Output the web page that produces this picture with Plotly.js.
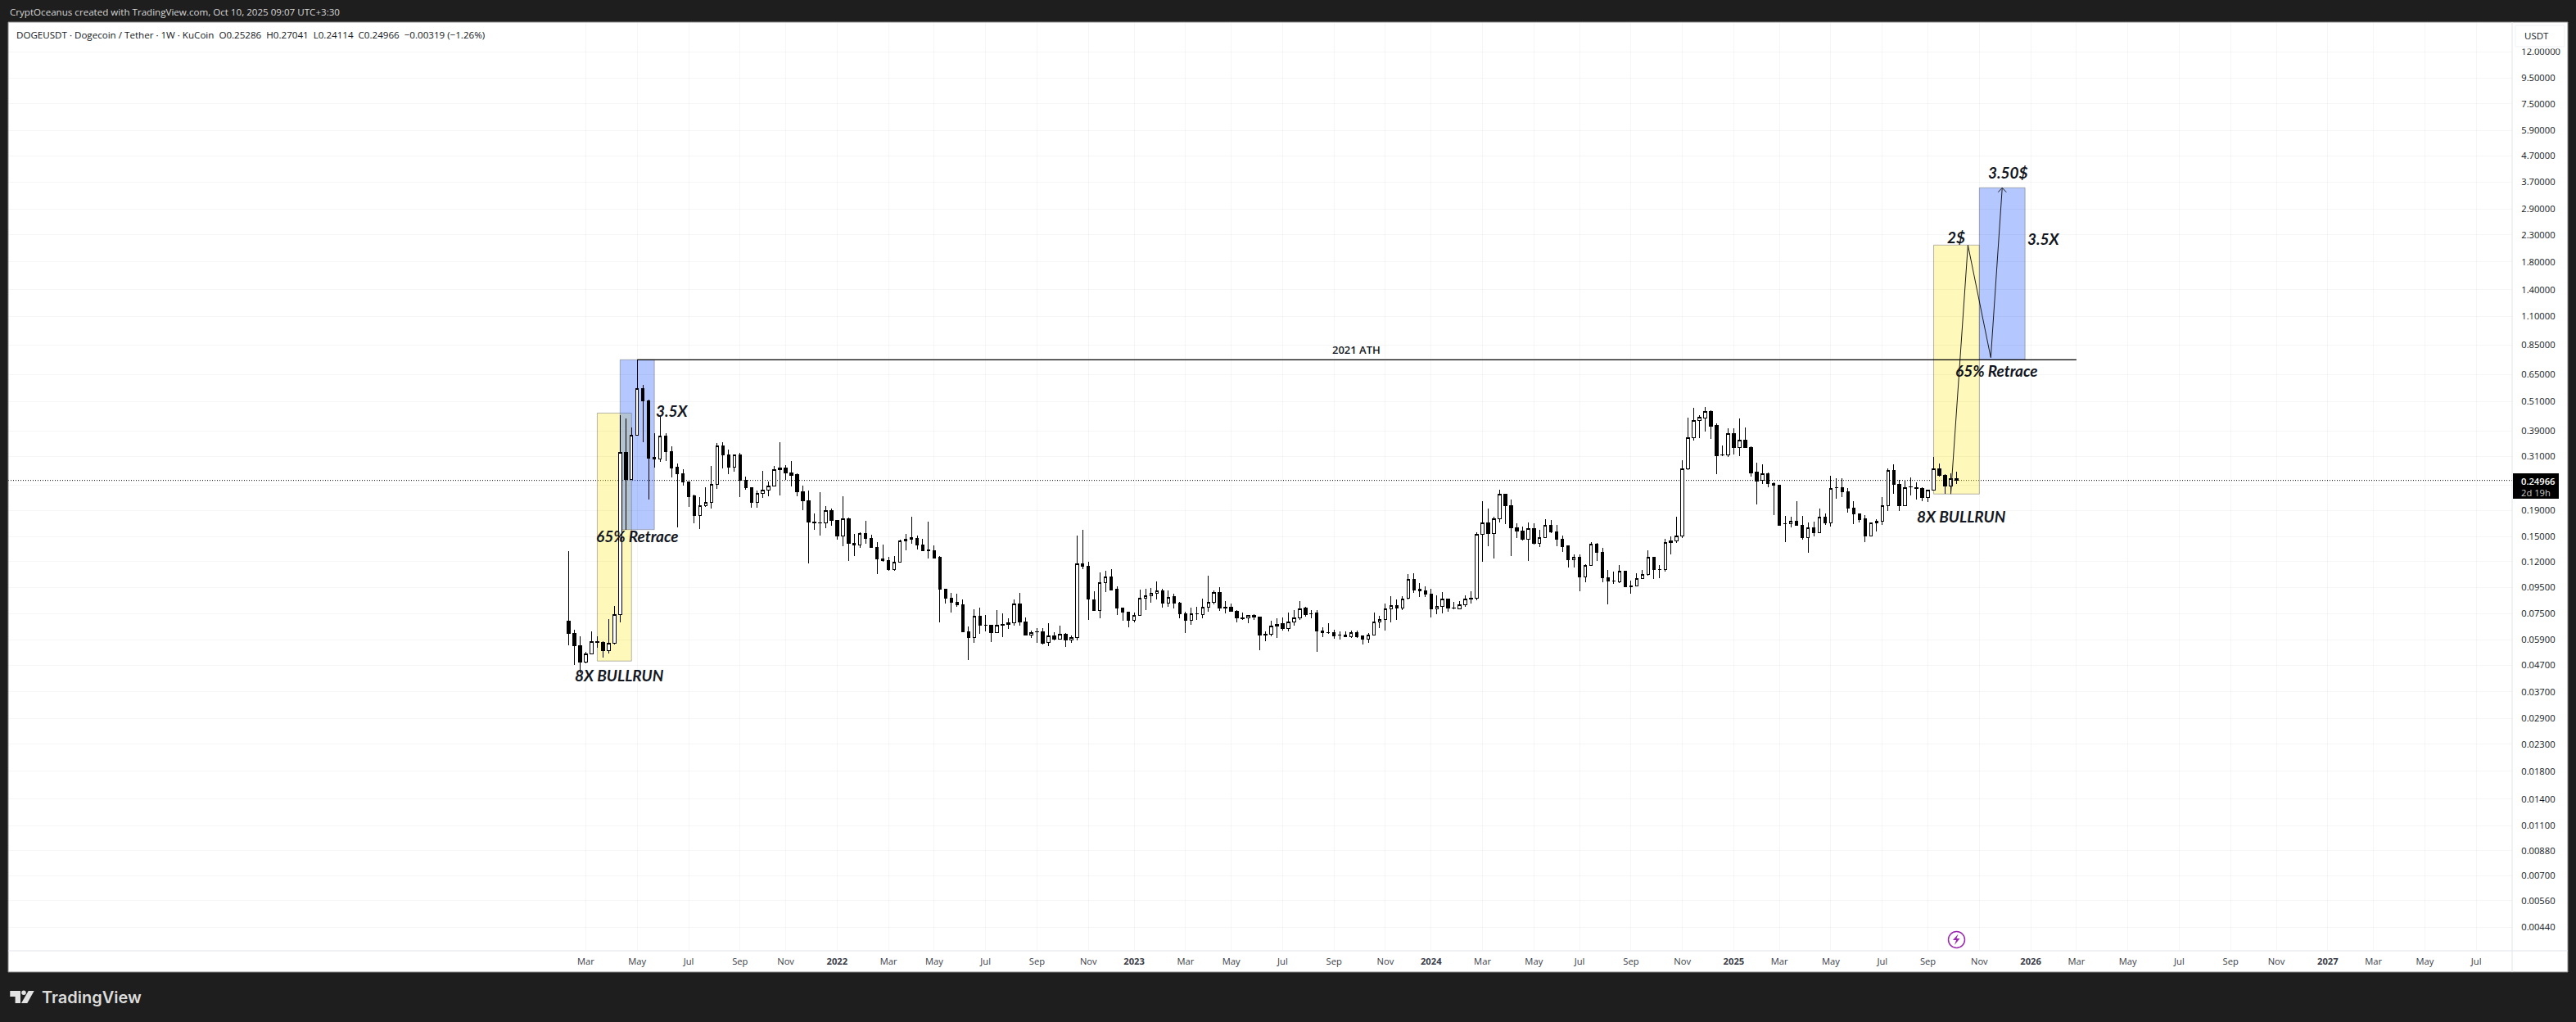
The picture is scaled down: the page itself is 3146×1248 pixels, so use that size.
<!DOCTYPE html>
<html>
<head>
<meta charset="utf-8">
<title>DOGEUSDT 1W</title>
<script src="https://cdn.plot.ly/plotly-3.0.1.min.js"></script>
<style>
  html, body { margin: 0; padding: 0; background: #1e1e1e; }
  #chart { width: 3146px; height: 1248px; }
  /* keep wicks and body edges on whole pixels, the reference has no soft edges here */
  .boxes path { shape-rendering: crispEdges !important; }
</style>
</head>
<body>
<div id="chart"></div>
<script>
// weekly candles, first bar is the week of 2021-02-08
const firstWeek = '2021-02-08';

const opens = [
  .0700,.0627,.0561,.0484,.0521,.0582,.0578,.0536,.0572,.0741,
  .322,.2515,.375,.5735,.513,.308,.3026,.373,.324,.2817,
  .2656,.2466,.2164,.1817,.1985,.2044,.2412,.341,.3148,.281,
  .3148,.2497,.2342,.2044,.2224,.2285,.2371,.2755,.2797,.267,
  .2625,.2256,.208,.1716,.1703,.1699,.1904,.1741,.151,.1767,
  .1416,.1391,.1548,.1482,.1364,.1232,.1212,.1112,.1191,.1449,
  .1469,.1482,.1394,.1331,.1325,.1247,.0935,.0862,.083,.081,
  .0637,.0603,.0732,.0675,.0675,.063,.068,.068,.069,.0818,
  .0696,.0618,.0637,.0637,.0578,.0613,.0596,.0623,.059,.0605,
  .1174,.115,.085,.077,.0992,.1045,.0931,.0789,.076,.0704,
  .0738,.0862,.0879,.0899,.0921,.0823,.0876,.0825,.0749,.0704,
  .0749,.0743,.0793,.0829,.0908,.0794,.0794,.0766,.0722,.072,
  .0738,.0727,.0623,.0621,.067,.0682,.0654,.0696,.072,.0785,
  .0749,.0751,.0641,.0632,.0632,.0618,.0618,.0607,.0632,.0613,
  .0594,.0617,.0696,.0711,.0783,.0806,.0789,.0862,.1022,.0931,
  .0921,.0895,.0781,.0798,.0856,.0789,.0781,.081,.0862,.0862,
  .1536,.1703,.1544,.1767,.2207,.199,.1629,.1582,.1469,.1618,
  .1416,.1488,.1666,.157,.1469,.1378,.1218,.1249,.1046,.116,
  .1406,.1305,.1038,.1008,.0998,.1102,.0964,.0961,.1028,.1069,
  .1249,.1115,.1112,.1426,.1449,.1514,.2777,.3678,.4297,.4382,
  .4662,.4094,.3149,.315,.3816,.3358,.3597,.3366,.2696,.2498,
  .2656,.2431,.2395,.1691,.1691,.1728,.1666,.1488,.1629,.1555,
  .1794,.1704,.2343,.2343,.2257,.1947,.1852,.1759,.151,.17,
  .1728,.199,.2736,.2413,.1985,.236,.2343,.2325,.2138,.2291,
  .2777,.2618,.2371,.25286
];
const highs = [
  .1314,.0646,.0609,.053,.0638,.0609,.0585,.0713,.0802,.451,
  .437,.402,.743,.592,.517,.3815,.449,.3815,.339,.2908,
  .2755,.2466,.2191,.2143,.2342,.2846,.35,.352,.3295,.3156,
  .3195,.2591,.2342,.2273,.2722,.2466,.2838,.352,.2859,.2967,
  .2656,.2378,.2273,.1848,.2245,.1975,.1937,.1745,.2164,.178,
  .1544,.1563,.1732,.1525,.1427,.1394,.125,.1256,.146,.1536,
  .1799,.1513,.1469,.1716,.1388,.1256,.0938,.0902,.0895,.085,
  .0667,.0779,.0789,.0739,.0677,.0773,.0753,.0716,.0852,.0904,
  .0723,.0643,.0659,.0659,.0687,.0635,.0671,.0627,.0617,.1517,
  .1597,.1197,.0917,.1085,.1106,.1117,.0959,.0792,.0764,.0755,
  .0931,.0937,.0942,.1002,.0935,.0924,.0895,.0831,.076,.0789,
  .0797,.0858,.1055,.0924,.0952,.0839,.0821,.0771,.0756,.0741,
  .0743,.0729,.0639,.0704,.0718,.0723,.0756,.0771,.0839,.0799,
  .0773,.0773,.0661,.0685,.0646,.0638,.0638,.0641,.0641,.0614,
  .0628,.0756,.0736,.0818,.0876,.085,.0874,.1071,.1076,.0987,
  .0959,.0937,.0881,.0908,.0858,.0833,.0837,.0885,.0917,.1566,
  .2065,.1932,.1803,.229,.2215,.2101,.1691,.165,.1704,.1691,
  .1602,.1759,.1746,.1666,.1517,.1381,.1283,.1283,.1169,.1434,
  .1423,.1355,.1112,.1093,.1163,.1107,.1011,.108,.1112,.1328,
  .1252,.1163,.1469,.1503,.1799,.2998,.4405,.4802,.4493,.4838,
  .4695,.4172,.3415,.401,.399,.4361,.402,.3407,.2931,.2881,
  .2689,.2449,.2407,.1812,.1803,.207,.1812,.1704,.1716,.1937,
  .1853,.2611,.2547,.254,.2325,.207,.1855,.1826,.1705,.1755,
  .2154,.2777,.2881,.251,.2498,.2559,.2463,.2348,.2295,.308,
  .291,.2643,.2656,.27041
];
const lows = [
  .0561,.0472,.0438,.0478,.0519,.0551,.0502,.0523,.0568,.0692,
  .16,.25,.374,.352,.21,.28,.295,.298,.257,.163,
  .2388,.1966,.17,.161,.1966,.1942,.2318,.279,.265,.27,
  .2153,.23,.195,.195,.2137,.2169,.2365,.218,.2509,.2365,
  .2169,.1913,.1183,.1601,.1517,.162,.1657,.1462,.1381,.1206,
  .1263,.1361,.1406,.1358,.1074,.12,.1106,.1106,.1186,.1331,
  .1406,.1341,.1314,.1236,.1233,.0692,.0822,.0758,.0797,.0632,
  .0494,.0576,.0624,.0639,.058,.0627,.0607,.0654,.0673,.0673,
  .0615,.0603,.0575,.0568,.0559,.059,.0594,.0555,.0575,.0588,
  .1123,.0709,.0768,.0718,.0913,.0924,.0741,.0704,.0663,.0692,
  .0736,.0773,.0824,.0854,.0793,.0798,.0787,.072,.063,.0678,
  .0709,.0718,.0762,.0816,.0768,.0751,.0762,.0692,.0707,.0688,
  .0709,.0538,.0583,.0612,.0603,.0643,.0639,.0671,.0709,.0729,
  .0718,.0531,.0607,.0624,.0599,.0592,.0605,.06,.0601,.0566,
  .0576,.0615,.0656,.0643,.0692,.0707,.0773,.0854,.0904,.0871,
  .0871,.0723,.0747,.0749,.0762,.0777,.0779,.0798,.0823,.0848,
  .1197,.1378,.1233,.1707,.1682,.1261,.1488,.1451,.1209,.1399,
  .1371,.1484,.1555,.1381,.1309,.114,.1137,.092,.0998,.1157,
  .1209,.0998,.0815,.0983,.099,.0949,.0897,.0958,.1023,.1054,
  .1023,.1033,.1096,.1283,.1416,.1488,.275,.358,.366,.3893,
  .3642,.265,.3103,.3082,.3157,.3111,.3345,.2579,.2015,.2425,
  .2348,.1826,.1663,.143,.1635,.1655,.1462,.1299,.1503,.155,
  .1666,.1646,.2117,.2154,.1867,.1683,.1712,.143,.1503,.1574,
  .167,.1894,.2207,.1894,.1976,.218,.2101,.2075,.206,.2285,
  .2592,.2207,.2207,.24114
];
const closes = [
  .0627,.0561,.0484,.0521,.0582,.0578,.0536,.0572,.0741,.322,
  .2515,.375,.5735,.513,.305,.3026,.373,.3235,.279,.2656,
  .2466,.2153,.1817,.1988,.2044,.2412,.341,.3148,.281,.3148,
  .2497,.2337,.2044,.2224,.2285,.2371,.2755,.279,.2663,.2617,
  .2251,.2075,.1711,.1699,.1701,.1904,.1737,.151,.1767,.1419,
  .1391,.1548,.1477,.1361,.1229,.1206,.1112,.1191,.1449,.1469,
  .1489,.1394,.1321,.1327,.1236,.0933,.086,.083,.081,.0635,
  .0603,.0732,.0673,.0674,.063,.0675,.0673,.069,.0818,.0694,
  .0617,.063,.0636,.0572,.0613,.0594,.0621,.059,.0605,.1174,
  .1148,.0854,.077,.0992,.1042,.0926,.0787,.0758,.0704,.0738,
  .0862,.0879,.0899,.0919,.0823,.0867,.0823,.0747,.0704,.0749,
  .075,.0793,.0829,.0906,.0787,.0787,.0764,.072,.0718,.0736,
  .0725,.0617,.0617,.067,.068,.0654,.0696,.072,.0783,.0741,
  .0748,.0639,.063,.0631,.0612,.0617,.0607,.0632,.0607,.0594,
  .0617,.0696,.0711,.0783,.0804,.0787,.0856,.1022,.0928,.0919,
  .0893,.0781,.0798,.0856,.0787,.0788,.081,.0856,.0854,.1536,
  .1703,.1544,.1767,.2207,.199,.1625,.1578,.1462,.1618,.1411,
  .1488,.1666,.1563,.1462,.1371,.1218,.1249,.1046,.116,.1406,
  .1302,.1036,.1005,.1006,.1102,.0954,.0954,.1028,.1069,.1249,
  .1115,.1114,.1426,.1449,.1514,.2777,.3678,.4297,.4427,.4651,
  .407,.3119,.3151,.3807,.3358,.3597,.3358,.2669,.2479,.265,
  .2425,.2389,.167,.169,.1724,.1663,.1488,.1629,.1555,.179,
  .1695,.2325,.2345,.2251,.1942,.1843,.1746,.151,.17,.1724,
  .199,.2729,.2407,.1985,.2337,.2358,.2319,.2138,.2291,.277,
  .2605,.2371,.2529,.24966
];

// axis labels
const priceTicks = [12,9.5,7.5,5.9,4.7,3.7,2.9,2.3,1.8,1.4,1.1,.85,.65,.51,.39,.31,.24,.19,.15,.12,.095,.075,.059,.047,.037,.029,.023,.018,.014,.011,.0088,.007,.0056,.0044];
const priceLabels = ['12.00000','9.50000','7.50000','5.90000','4.70000','3.70000','2.90000','2.30000','1.80000','1.40000','1.10000','0.85000','0.65000','0.51000','0.39000','0.31000','','0.19000','0.15000','0.12000','0.09500','0.07500','0.05900','0.04700','0.03700','0.02900','0.02300','0.01800','0.01400','0.01100','0.00880','0.00700','0.00560','0.00440'];
const timeTicks = ['2021-03-01','2021-05-03','2021-07-05','2021-09-06','2021-11-01','2022-01-03','2022-03-07','2022-05-02','2022-07-04','2022-09-05','2022-11-07','2023-01-02','2023-03-06','2023-05-01','2023-07-03','2023-09-04','2023-11-06','2024-01-01','2024-03-04','2024-05-06','2024-07-01','2024-09-02','2024-11-04','2025-01-06','2025-03-03','2025-05-05','2025-07-07','2025-09-01','2025-11-03','2026-01-05','2026-03-02','2026-05-04','2026-07-06','2026-09-07','2026-11-02','2027-01-04','2027-03-01','2027-05-03','2027-07-05'];
const timeLabels = ['Mar','May','Jul','Sep','Nov','<b>2022</b>','Mar','May','Jul','Sep','Nov','<b>2023</b>','Mar','May','Jul','Sep','Nov','<b>2024</b>','Mar','May','Jul','Sep','Nov','<b>2025</b>','Mar','May','Jul','Sep','Nov','<b>2026</b>','Mar','May','Jul','Sep','Nov','<b>2027</b>','Mar','May','Jul'];

// drawings on the chart
const lastPrice = 0.24966;
const athPrice = 0.743;
const yellowBoxes = [['2021-03-15','2021-04-26',.0488,.459],['2025-09-08','2025-11-03',.2208,2.095]];
const blueBoxes = [['2021-04-12','2021-05-24',.1601,.743],['2025-11-03','2025-12-29',.743,3.517]];
const pathDates = ['2025-09-29','2025-10-20','2025-11-17','2025-12-01'];
const pathPrices = [.2208,2.095,.7577,3.517];
const arrowDates = ['2025-11-26','2025-12-01','2025-12-06'];
const arrowPrices = [3.38,3.517,3.38];
const noteTexts = ['8X BULLRUN','65% Retrace','3.5X','8X BULLRUN','65% Retrace','2$','3.50$','3.5X'];
const noteDates = ['2021-04-11','2021-05-03','2021-06-15','2025-10-12','2025-11-24','2025-10-06','2025-12-08','2026-01-21'];
const notePrices = [.0429,.1506,.4684,.1799,.6717,2.245,4.03,2.22];

const weekDates = opens.map((_, i) => {
  const d = new Date(firstWeek + 'T00:00:00Z');
  d.setUTCDate(d.getUTCDate() + i * 7);
  return d.toISOString().slice(0, 10);
});

// page pixels to paper coordinates, the frame around the pane is drawn with these
const paneL = 10, paneR = 3068, paneT = 27, paneB = 1161;
const px = x => (x - paneL) / (paneR - paneL);
const py = y => (paneB - y) / (paneB - paneT);
const paperRect = (x0, y0, x1, y1, fill, extra) => Object.assign({
  type: 'rect', xref: 'paper', yref: 'paper', layer: 'above',
  x0: px(x0), x1: px(x1), y0: py(y0), y1: py(y1),
  fillcolor: fill, line: { width: 0 }
}, extra);
const paperPath = (points, fill) => ({
  type: 'path', xref: 'paper', yref: 'paper', layer: 'above', fillcolor: fill, line: { width: 0 },
  path: 'M' + points.map(p => px(p[0]) + ',' + py(p[1])).join('L') + 'Z'
});
const paperText = (x, y, text, size, color, extra) => Object.assign({
  xref: 'paper', yref: 'paper', x: px(x), y: py(y), text: text, showarrow: false,
  xanchor: 'left', yanchor: 'middle', font: { family: 'Open Sans', size: size, color: color }
}, extra);

const dark = '#1e1e1e';
const purple = '#9c27b0';

const dataBox = (b, fill) => ({
  type: 'rect', xref: 'x', yref: 'y', layer: 'below',
  x0: b[0], x1: b[1], y0: b[2], y1: b[3], fillcolor: fill,
  line: { color: 'rgba(110,110,110,0.5)', width: 1 }
});

const shapes = [
  ...yellowBoxes.map(b => dataBox(b, 'rgba(255,235,59,0.35)')),
  ...blueBoxes.map(b => dataBox(b, 'rgba(41,98,255,0.35)')),
  { type: 'line', xref: 'paper', yref: 'y', layer: 'below', x0: 0, x1: 1, y0: lastPrice, y1: lastPrice,
    line: { color: '#000', width: 1, dash: '1px,2px' } },
  { type: 'line', xref: 'x', yref: 'y', layer: 'above', x0: '2021-05-03', x1: '2026-03-02', y0: athPrice, y1: athPrice,
    line: { color: '#000', width: 1.2 } },
  // dark frame
  paperRect(0, 0, 3146, paneT, dark),
  paperRect(0, 1187, 3146, 1248, dark),
  paperRect(0, 0, paneL, 1248, dark),
  paperRect(3136, 0, 3146, 1248, dark),
  { type: 'rect', xref: 'paper', yref: 'paper', layer: 'above', x0: px(10), x1: px(3136), y0: py(27), y1: py(1187),
    line: { color: '#8a8a8a', width: 1 } },
  // the top tick is cut off by the currency button
  paperRect(3069, 28, 3135, 59.5, '#fff'),
  // axis separators
  { type: 'line', xref: 'paper', yref: 'paper', layer: 'above', x0: px(3068), x1: px(3068), y0: py(27), y1: py(1187),
    line: { color: '#e0e3eb', width: 1 } },
  { type: 'line', xref: 'paper', yref: 'paper', layer: 'above', x0: px(10), x1: px(3136), y0: py(1161), y1: py(1161),
    line: { color: '#e0e3eb', width: 1.2 } },
  // currency button
  paperRect(3072, 31, 3132, 57, '#fff', { line: { color: '#f0f1f4', width: 1 } }),
  // last price tag
  paperRect(3069, 578, 3125, 609, '#000'),
  // lightning badge
  { type: 'circle', xref: 'paper', yref: 'paper', layer: 'above', x0: px(2379.5), x1: px(2399.5), y0: py(1157.5), y1: py(1137.5),
    fillcolor: '#fff', line: { color: purple, width: 1.5 } },
  paperPath([[2391.5,1140.5],[2385,1148],[2389,1148],[2387,1154],[2393.5,1146],[2389.5,1146]], purple),
  // logo
  paperPath([[12.3,1210],[25,1210],[25,1225],[18.6,1225],[18.6,1217],[12.3,1217]], '#e3e3e3'),
  { type: 'circle', xref: 'paper', yref: 'paper', layer: 'above', x0: px(26.2), x1: px(31.8), y0: py(1215), y1: py(1209.6),
    fillcolor: '#e3e3e3', line: { width: 0 } },
  paperPath([[34.7,1210],[41.7,1210],[33.3,1225],[26,1225]], '#e3e3e3')
];

const annotations = [
  ...noteTexts.map((t, i) => ({
    xref: 'x', yref: 'y', x: noteDates[i], y: Math.log10(notePrices[i]), text: t, showarrow: false,
    xanchor: 'center', yanchor: 'middle',
    font: { family: 'Lato', size: 19, color: '#131722', weight: 700, style: 'italic' }
  })),
  { xref: 'x', yref: 'y', x: '2023-10-01', y: Math.log10(.8142), text: '2021 ATH', showarrow: false,
    xanchor: 'center', yanchor: 'middle', font: { family: 'Open Sans', size: 13, color: '#131722', weight: 600 } },
  paperText(10, 15, 'CryptOceanus created with TradingView.com, Oct 10, 2025 09:07 UTC+3:30', 11.6, '#d6d6d6'),
  paperText(18, 42, 'DOGEUSDT · Dogecoin / Tether · 1W · KuCoin  O0.25286  H0.27041  L0.24114  C0.24966  −0.00319 (−1.26%)', 11.6, '#131722'),
  paperText(3081, 44, 'USDT', 11.5, '#131722'),
  paperText(3077, 587, '0.24966', 11.2, '#fff', { font: { family: 'Open Sans', size: 11.2, color: '#fff', weight: 600 } }),
  paperText(3077, 601, '2d 19h', 11.2, '#c8c8c8'),
  paperText(49, 1218, 'TradingView', 20, '#dcdcdc', { font: { family: 'Inter', size: 20, color: '#dcdcdc', weight: 600 } })
];

const candles = {
  type: 'candlestick', x: weekDates, open: opens, high: highs, low: lows, close: closes,
  increasing: { line: { color: '#000', width: 1 }, fillcolor: '#fff' },
  decreasing: { line: { color: '#000', width: 1 }, fillcolor: '#000' },
  whiskerwidth: 0, hoverinfo: 'skip', showlegend: false
};
const path = {
  type: 'scatter', mode: 'lines', x: pathDates, y: pathPrices,
  line: { color: '#1a1a1a', width: 1 }, hoverinfo: 'skip', showlegend: false
};
const arrowHead = {
  type: 'scatter', mode: 'lines', x: arrowDates, y: arrowPrices,
  line: { color: '#1a1a1a', width: 1 }, hoverinfo: 'skip', showlegend: false
};

const layout = {
  width: 3146, height: 1248,
  margin: { l: paneL, r: 3146 - paneR, t: paneT, b: 1248 - paneB },
  paper_bgcolor: '#fff', plot_bgcolor: '#fff',
  showlegend: false,
  font: { family: 'Open Sans', color: '#131722' },
  xaxis: {
    type: 'date', range: ['2019-03-24', '2027-08-18'], rangeslider: { visible: false },
    tickmode: 'array', tickvals: timeTicks, ticktext: timeLabels, tickangle: 0,
    tickfont: { family: 'Open Sans', size: 11.2, color: '#3a3d48' },
    ticks: 'outside', ticklen: 3, tickcolor: '#fff', showline: false, zeroline: false,
    showgrid: true, gridcolor: 'rgba(0,0,0,0.035)', gridwidth: 1
  },
  yaxis: {
    type: 'log', side: 'right', range: [-2.4489, 1.1965],
    tickmode: 'array', tickvals: priceTicks, ticktext: priceLabels,
    tickfont: { family: 'Open Sans', size: 11.2, color: '#131722' },
    ticks: 'outside', ticklen: 8, tickcolor: '#fff', showline: false, zeroline: false,
    showgrid: true, gridcolor: 'rgba(0,0,0,0.035)', gridwidth: 1
  },
  shapes: shapes,
  annotations: annotations
};

Plotly.newPlot('chart', [candles, path, arrowHead], layout, { staticPlot: true, displayModeBar: false });
</script>
</body>
</html>
